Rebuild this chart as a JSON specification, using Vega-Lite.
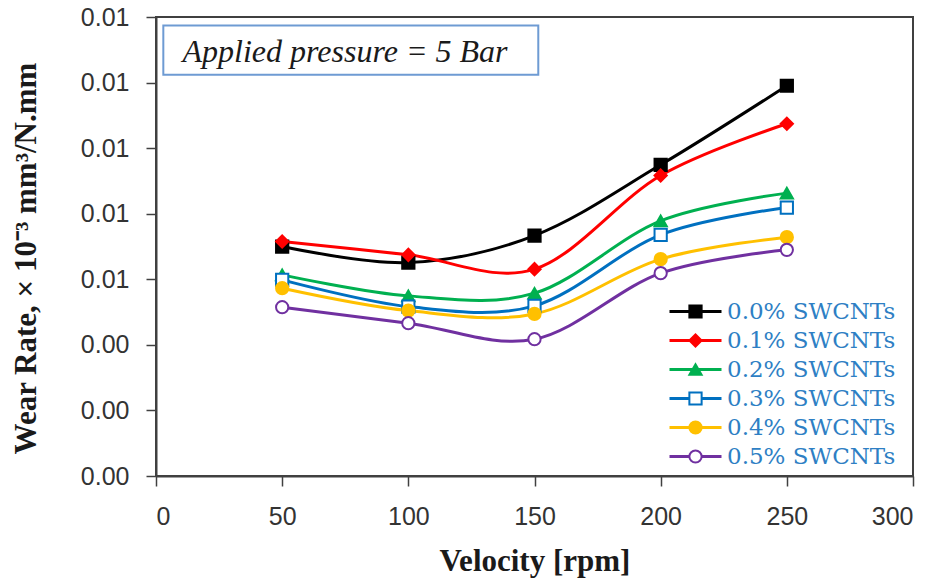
{
  "$schema": "https://vega.github.io/schema/vega-lite/v6.json",
  "width": 757,
  "height": 459,
  "autosize": {"type": "none"},
  "padding": {"left": 156, "top": 17, "right": 27, "bottom": 106},
  "background": "white",
  "config": {
    "view": {"stroke": "#404040", "strokeWidth": 2},
    "axis": {
      "domainColor": "#404040", "domainWidth": 2,
      "tickColor": "#404040", "tickWidth": 1.5, "tickSize": 10,
      "grid": false,
      "labelFont": "Liberation Sans", "labelFontSize": 25, "labelColor": "#333333",
      "titleFont": "Liberation Serif", "titleFontWeight": "bold", "titleColor": "#1a1a1a"
    },
    "axisX": {"labelPadding": 18, "titlePadding": 17, "titleFontSize": 31},
    "axisY": {"labelPadding": 17, "titlePadding": 38, "titleFontSize": 31, "titleY": 241},
    "legend": {"labelLimit": 400}
  },
  "datasets": {
    "wear": [
      {"rpm": 50, "wear": 0.006999, "series": "0.0% SWCNTs"},
      {"rpm": 100, "wear": 0.006510, "series": "0.0% SWCNTs"},
      {"rpm": 150, "wear": 0.007334, "series": "0.0% SWCNTs"},
      {"rpm": 200, "wear": 0.009492, "series": "0.0% SWCNTs"},
      {"rpm": 250, "wear": 0.011903, "series": "0.0% SWCNTs"},
      {"rpm": 50, "wear": 0.007151, "series": "0.1% SWCNTs"},
      {"rpm": 100, "wear": 0.006745, "series": "0.1% SWCNTs"},
      {"rpm": 150, "wear": 0.006309, "series": "0.1% SWCNTs"},
      {"rpm": 200, "wear": 0.009166, "series": "0.1% SWCNTs"},
      {"rpm": 250, "wear": 0.010743, "series": "0.1% SWCNTs"},
      {"rpm": 50, "wear": 0.006135, "series": "0.2% SWCNTs"},
      {"rpm": 100, "wear": 0.005494, "series": "0.2% SWCNTs"},
      {"rpm": 150, "wear": 0.005576, "series": "0.2% SWCNTs"},
      {"rpm": 200, "wear": 0.007783, "series": "0.2% SWCNTs"},
      {"rpm": 250, "wear": 0.008628, "series": "0.2% SWCNTs"},
      {"rpm": 50, "wear": 0.005982, "series": "0.3% SWCNTs"},
      {"rpm": 100, "wear": 0.005167, "series": "0.3% SWCNTs"},
      {"rpm": 150, "wear": 0.005189, "series": "0.3% SWCNTs"},
      {"rpm": 200, "wear": 0.007356, "series": "0.3% SWCNTs"},
      {"rpm": 250, "wear": 0.008189, "series": "0.3% SWCNTs"},
      {"rpm": 50, "wear": 0.005729, "series": "0.4% SWCNTs"},
      {"rpm": 100, "wear": 0.005045, "series": "0.4% SWCNTs"},
      {"rpm": 150, "wear": 0.004944, "series": "0.4% SWCNTs"},
      {"rpm": 200, "wear": 0.006614, "series": "0.4% SWCNTs"},
      {"rpm": 250, "wear": 0.007285, "series": "0.4% SWCNTs"},
      {"rpm": 50, "wear": 0.005149, "series": "0.5% SWCNTs"},
      {"rpm": 100, "wear": 0.004661, "series": "0.5% SWCNTs"},
      {"rpm": 150, "wear": 0.004172, "series": "0.5% SWCNTs"},
      {"rpm": 200, "wear": 0.006187, "series": "0.5% SWCNTs"},
      {"rpm": 250, "wear": 0.006898, "series": "0.5% SWCNTs"}
    ],
    "note": [
      {"x1": 2.9, "x2": 151.5, "y1": 0.012239, "y2": 0.013744, "tx": 74.9, "ty": 0.012941, "label": "Applied pressure = 5 Bar"}
    ]
  },
  "layer": [
    {
      "data": {"name": "wear"},
      "mark": {"type": "line", "interpolate": "cardinal", "strokeWidth": 3},
      "encoding": {
        "x": {
          "field": "rpm", "type": "quantitative",
          "scale": {"domain": [0, 300], "nice": false, "zero": false},
          "axis": {"values": [0, 50, 100, 150, 200, 250, 300], "format": "d", "title": "Velocity [rpm]"}
        },
        "y": {
          "field": "wear", "type": "quantitative",
          "scale": {"domain": [0, 0.014], "nice": false, "zero": false},
          "axis": {"values": [0, 0.002, 0.004, 0.006, 0.008, 0.01, 0.012, 0.014], "format": ".2f", "title": "Wear Rate, × 10⁻³  mm³/N.mm"}
        },
        "color": {
          "field": "series", "type": "nominal",
          "scale": {"range": ["#000000", "#FF0000", "#00B050", "#0070C0", "#FFC000", "#7030A0"]},
          "legend": {
            "orient": "none", "legendX": 528, "legendY": 283, "title": null, "padding": 0,
            "symbolType": "M-4,0H4", "symbolSize": 169, "symbolStrokeWidth": 3,
            "labelFont": "DejaVu Serif", "labelFontSize": 23, "labelColor": "#2E7FC4", "labelOffset": 20, "rowPadding": 5
          }
        }
      }
    },
    {
      "data": {"name": "wear"},
      "mark": {"type": "point", "size": 150, "strokeWidth": 2, "opacity": 1},
      "encoding": {
        "x": {"field": "rpm", "type": "quantitative", "scale": {"domain": [0, 300], "nice": false, "zero": false},
          "axis": {"values": [0, 50, 100, 150, 200, 250, 300], "format": "d", "title": "Velocity [rpm]"}},
        "y": {"field": "wear", "type": "quantitative", "scale": {"domain": [0, 0.014], "nice": false, "zero": false},
          "axis": {"values": [0, 0.002, 0.004, 0.006, 0.008, 0.01, 0.012, 0.014], "format": ".2f", "title": "Wear Rate, × 10⁻³  mm³/N.mm"}},
        "shape": {
          "field": "series", "type": "nominal",
          "scale": {"domain": ["0.0% SWCNTs", "0.1% SWCNTs", "0.2% SWCNTs", "0.3% SWCNTs", "0.4% SWCNTs", "0.5% SWCNTs"], "range": ["square", "diamond", "triangle-up", "square", "circle", "circle"]},
          "legend": {
            "orient": "none", "legendX": 528, "legendY": 283, "title": null, "padding": 0,
            "symbolSize": 150, "symbolStrokeWidth": 2,
            "labelFont": "DejaVu Serif", "labelFontSize": 23, "labelOpacity": 0, "labelOffset": 20, "rowPadding": 5
          }
        },
        "fill": {
          "field": "series", "type": "nominal",
          "scale": {"domain": ["0.0% SWCNTs", "0.1% SWCNTs", "0.2% SWCNTs", "0.3% SWCNTs", "0.4% SWCNTs", "0.5% SWCNTs"], "range": ["#000000", "#FF0000", "#00B050", "#FFFFFF", "#FFC000", "#FFFFFF"]},
          "legend": {
            "orient": "none", "legendX": 528, "legendY": 283, "title": null, "padding": 0,
            "symbolSize": 150, "symbolStrokeWidth": 2,
            "labelFont": "DejaVu Serif", "labelFontSize": 23, "labelOpacity": 0, "labelOffset": 20, "rowPadding": 5
          }
        },
        "stroke": {
          "field": "series", "type": "nominal",
          "scale": {"domain": ["0.0% SWCNTs", "0.1% SWCNTs", "0.2% SWCNTs", "0.3% SWCNTs", "0.4% SWCNTs", "0.5% SWCNTs"], "range": ["#000000", "#FF0000", "#00B050", "#0070C0", "#FFC000", "#7030A0"]},
          "legend": {
            "orient": "none", "legendX": 528, "legendY": 283, "title": null, "padding": 0,
            "symbolSize": 150, "symbolStrokeWidth": 2,
            "labelFont": "DejaVu Serif", "labelFontSize": 23, "labelOpacity": 0, "labelOffset": 20, "rowPadding": 5
          }
        }
      }
    },
    {
      "data": {"name": "note"},
      "mark": {"type": "rect", "fill": "white", "stroke": "#6E9BD3", "strokeWidth": 2},
      "encoding": {
        "x": {"field": "x1", "type": "quantitative", "scale": {"domain": [0, 300], "nice": false, "zero": false},
          "axis": {"values": [0, 50, 100, 150, 200, 250, 300], "format": "d", "title": "Velocity [rpm]"}},
        "x2": {"field": "x2"},
        "y": {"field": "y1", "type": "quantitative", "scale": {"domain": [0, 0.014], "nice": false, "zero": false},
          "axis": {"values": [0, 0.002, 0.004, 0.006, 0.008, 0.01, 0.012, 0.014], "format": ".2f", "title": "Wear Rate, × 10⁻³  mm³/N.mm"}},
        "y2": {"field": "y2"}
      }
    },
    {
      "data": {"name": "note"},
      "mark": {"type": "text", "font": "Liberation Serif", "fontStyle": "italic", "fontSize": 32, "color": "#1a1a1a", "align": "center", "baseline": "middle"},
      "encoding": {
        "x": {"field": "tx", "type": "quantitative", "scale": {"domain": [0, 300], "nice": false, "zero": false},
          "axis": {"values": [0, 50, 100, 150, 200, 250, 300], "format": "d", "title": "Velocity [rpm]"}},
        "y": {"field": "ty", "type": "quantitative", "scale": {"domain": [0, 0.014], "nice": false, "zero": false},
          "axis": {"values": [0, 0.002, 0.004, 0.006, 0.008, 0.01, 0.012, 0.014], "format": ".2f", "title": "Wear Rate, × 10⁻³  mm³/N.mm"}},
        "text": {"field": "label"}
      }
    }
  ]
}
